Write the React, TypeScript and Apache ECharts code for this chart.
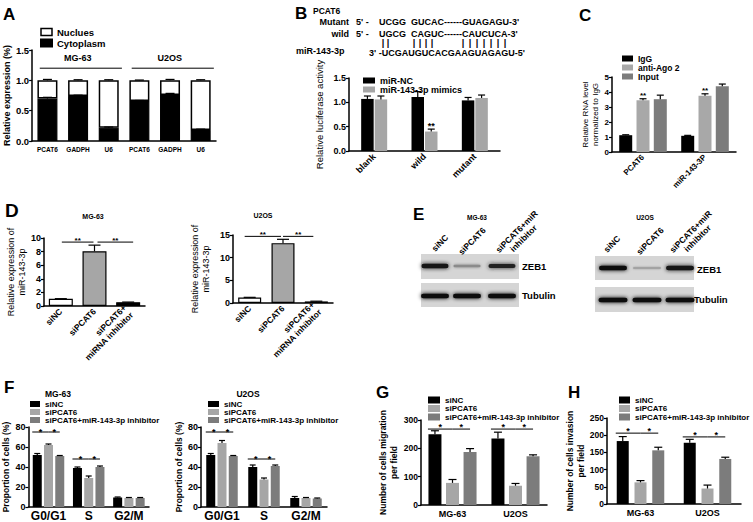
import React, { useEffect, useRef } from "react";
import * as echarts from "echarts";

const FONT = "'Liberation Sans', Arial, Helvetica, sans-serif";

// ---------- A ----------
const aCategories = ["PCAT6", "GADPH", "U6", "PCAT6", "GADPH", "U6"];
const aCytoplasm = [0.7, 0.74, 0.22, 0.66, 0.76, 0.18];
const aCytoplasmErr = [0.02, 0.015, 0.01, 0.008, 0.025, 0.015];
const aNucleus = [0.3, 0.26, 0.78, 0.34, 0.24, 0.82];
const aTotalErr = [0.015, 0.01, 0.01, 0.005, 0.015, 0.01];
const aGroupNames = ["MG-63", "U2OS"];
const aGroupStart = [0, 3];
const aGroupEnd = [2, 5];

// ---------- B ----------
const bCategories = ["blank", "wild", "mutant"];
const bNC = [1.07, 1.11, 1.04];
const bNCErr = [0.06, 0.11, 0.06];
const bMimics = [1.06, 0.4, 1.09];
const bMimicsErr = [0.07, 0.05, 0.06];
const bMimicsStars = ["", "**", ""];

// ---------- C ----------
const cCategories = ["PCAT6", "miR-143-3P"];
const cIgG = [1.12, 1.08];
const cIgGErr = [0.03, 0.03];
const cAgo = [3.45, 3.75];
const cAgoErr = [0.1, 0.13];
const cAgoStars = ["**", "**"];
const cInput = [3.52, 4.38];
const cInputErr = [0.27, 0.15];

// ---------- D ----------
const dCategories = ["siNC", "siPCAT6", "siPCAT6+\nmiRNA inhibitor"];
const dMG63 = [1.05, 8.05, 0.55];
const dMG63Err = [0.03, 0.9, 0.03];
const dU2OS = [1.2, 13.2, 0.35];
const dU2OSErr = [0.05, 0.85, 0.05];
const dColors = ["#ffffff", "#a6a6a6", "#000000"];

// ---------- F ----------
const fCategories = ["G0/G1", "S", "G2/M"];
const fMGsiNC = [52, 39, 9.5];
const fMGsiNCErr = [1.5, 1, 0.5];
const fMGsiPCAT6 = [62, 29, 9];
const fMGsiPCAT6Err = [1, 2, 0.5];
const fMGinh = [51, 40, 9];
const fMGinhErr = [0.5, 1, 0.5];
const fUsiNC = [52, 40, 9];
const fUsiNCErr = [1.5, 2, 1.5];
const fUsiPCAT6 = [64, 27.5, 9];
const fUsiPCAT6Err = [2.5, 1.5, 0.5];
const fUinh = [51, 41, 8.5];
const fUinhErr = [0.5, 1, 0.5];

// ---------- G / H ----------
const ghCategories = ["MG-63", "U2OS"];
const gSiNC = [250, 235];
const gSiNCErr = [12, 22];
const gSiPCAT6 = [78, 68];
const gSiPCAT6Err = [12, 8];
const gInh = [187, 172];
const gInhErr = [12, 5];
const hSiNC = [183, 178];
const hSiNCErr = [13, 10];
const hSiPCAT6 = [63, 45];
const hSiPCAT6Err = [5, 10];
const hInh = [156, 131];
const hInhErr = [9, 5];

const legendNames3 = ["siNC", "siPCAT6", "siPCAT6+miR-143-3p inhibitor"];
const col3 = ["#000000", "#a6a6a6", "#7c7c7c"];

// ---------- E (western blot) ----------
const eLanes = ["siNC", "siPCAT6", "siPCAT6+miR\ninhibitor"];
const eZEB1MG = [0.95, 0.35, 0.9];
const eZEB1U = [1, 0.22, 0.95];
const eTubMG = [1, 1, 1];
const eTubU = [1, 1, 1];

function offsetOf(idx: number, n: number, bw: number, gap: number) {
  return (idx - (n - 1) / 2) * bw * (1 + gap);
}

function textStyle(text: string, x: number, y: number, size: number, align = "left", va = "middle", weight = "bold") {
  return {
    text, x, y, fill: "#000", fontSize: size, fontWeight: weight, fontFamily: FONT,
    align, verticalAlign: va, textAlign: align, textVerticalAlign: va,
  };
}

function errSeries(gi: number, tops: number[], errs: number[], idx: number, n: number, bw: number, gap: number, cap: number, stars?: string[], starSize = 9) {
  return {
    type: "custom", xAxisIndex: gi, yAxisIndex: gi, z: 4, silent: true, clip: false,
    data: tops.map((v, i) => [i, v]),
    renderItem: (params: any, api: any) => {
      const i = params.dataIndex;
      const off = offsetOf(idx, n, bw, gap);
      const p0 = api.coord([i, tops[i]]);
      const p1 = api.coord([i, tops[i] + errs[i]]);
      const x = p0[0] + off;
      const children: any[] = [
        { type: "line", shape: { x1: x, y1: p0[1], x2: x, y2: p1[1] }, style: { stroke: "#000", lineWidth: 1.2 } },
        { type: "line", shape: { x1: x - cap / 2, y1: p1[1], x2: x + cap / 2, y2: p1[1] }, style: { stroke: "#000", lineWidth: 1.2 } },
      ];
      if (stars && stars[i]) {
        children.push({ type: "text", style: textStyle(stars[i], x, p1[1] - 3, starSize, "center", "middle") });
      }
      return { type: "group", children };
    },
  };
}

type Bracket = { c0: number; b0: number; c1: number; b1: number; y: number; t: string; d0?: number; d1?: number };

function bracketSeries(gi: number, items: Bracket[], n: number, bw: number, gap: number, size = 9, lift = 2) {
  return {
    type: "custom", xAxisIndex: gi, yAxisIndex: gi, z: 5, silent: true, clip: false,
    data: items.map((it) => [it.c0, it.y]),
    renderItem: (params: any, api: any) => {
      const it = items[params.dataIndex];
      const p0 = api.coord([it.c0, it.y]);
      const p1 = api.coord([it.c1, it.y]);
      const x0 = p0[0] + offsetOf(it.b0, n, bw, gap) + (it.d0 || 0);
      const x1 = p1[0] + offsetOf(it.b1, n, bw, gap) + (it.d1 || 0);
      return {
        type: "group",
        children: [
          { type: "line", shape: { x1: x0, y1: p0[1], x2: x1, y2: p0[1] }, style: { stroke: "#000", lineWidth: 1 } },
          { type: "text", style: textStyle(it.t, (x0 + x1) / 2, p0[1] - lift, size, "center", "middle") },
        ],
      };
    },
  };
}

function groupLabelSeries(gi: number) {
  return {
    type: "custom", xAxisIndex: gi, yAxisIndex: gi, z: 5, silent: true, clip: false,
    data: aGroupStart.map((s) => [s, 1.2]),
    renderItem: (params: any, api: any) => {
      const i = params.dataIndex;
      const band = api.size([1, 0])[0];
      const pa = api.coord([aGroupStart[i], 1.2]);
      const pb = api.coord([aGroupEnd[i], 1.2]);
      const pt = api.coord([aGroupStart[i], 1.37]);
      const x0 = pa[0] - 0.25 * band;
      const x1 = pb[0] + 0.43 * band;
      return {
        type: "group",
        children: [
          { type: "line", shape: { x1: x0, y1: pa[1], x2: x1, y2: pa[1] }, style: { stroke: "#000", lineWidth: 1 } },
          { type: "text", style: textStyle(aGroupNames[i], (x0 + x1) / 2 - 3, pt[1], 9, "center", "middle") },
        ],
      };
    },
  };
}

const xCat = (gi: number, data: string[], fs: number, extra: any = {}) => ({
  type: "category", gridIndex: gi, data,
  axisLine: { lineStyle: { color: "#000", width: 1.5 } },
  axisTick: { show: false },
  axisLabel: { color: "#000", fontFamily: FONT, fontWeight: "bold", fontSize: fs, interval: 0, margin: 4, ...extra },
});

const yVal = (gi: number, max: number, interval: number, fs: number, name: string, nameGap: number, nameFs: number, nameWeight: string, fmt?: any) => {
  const label: any = { color: "#000", fontFamily: FONT, fontWeight: "bold", fontSize: fs, margin: 3 };
  if (fmt) label.formatter = fmt;
  return {
    type: "value", gridIndex: gi, min: 0, max, interval,
    axisLine: { show: true, lineStyle: { color: "#000", width: 1.5 } },
    axisTick: { show: true, length: 3, lineStyle: { color: "#000", width: 1.2 } },
    splitLine: { show: false },
    axisLabel: label,
    name, nameLocation: "middle", nameGap, nameRotate: 90,
    nameTextStyle: { color: "#000", fontFamily: FONT, fontWeight: nameWeight, fontSize: nameFs, lineHeight: nameFs + 2 },
  };
};

const bar = (name: string, gi: number, data: any[], color: string, bw: number, gap: number, extra: any = {}) => ({
  type: "bar", name, xAxisIndex: gi, yAxisIndex: gi, data, barWidth: bw, barGap: `${Math.round(gap * 100)}%`,
  itemStyle: { color }, silent: true, ...extra,
});

const legend = (data: any[], left: number, top: number, w: number, h: number, gap: number, fs: number) => ({
  data, left, top, orient: "vertical", itemWidth: w, itemHeight: h, itemGap: gap, icon: "rect",
  padding: 0, selectedMode: false,
  textStyle: { color: "#000", fontFamily: FONT, fontWeight: "bold", fontSize: fs, lineHeight: fs },
});

function blotGraphics(): any[] {
  const els: any[] = [];
  const box = (x: number, y: number, w: number, h: number) =>
    els.push({ type: "rect", silent: true, shape: { x, y, width: w, height: h }, style: { fill: "#d5d5d5" } });
  const band = (cx: number, cy: number, w: number, k: number) => {
    const g = Math.round(205 - 190 * k);
    const c = `rgb(${g},${g},${g})`;
    const h = 1.5 + 3 * k;
    els.push({
      type: "rect", silent: true,
      shape: { x: cx - w / 2, y: cy - h / 2, width: w, height: h, r: h / 2 },
      style: { fill: c, shadowBlur: 2 + 2 * k, shadowColor: c },
    });
  };
  // MG-63
  box(421, 254, 98, 25);
  box(421, 283, 98, 24);
  const mgX = [435, 467, 502];
  mgX.forEach((x, i) => band(x, 266, 27, eZEB1MG[i]));
  mgX.forEach((x, i) => band(x, 296, 28, eTubMG[i]));
  // U2OS
  box(595, 256, 99, 24);
  box(595, 287, 99, 25);
  const uX = [613, 647, 680];
  uX.forEach((x, i) => band(x, 268, 28, eZEB1U[i]));
  uX.forEach((x, i) => band(x, 300, 29, eTubU[i]));
  // labels
  els.push({ type: "text", silent: true, style: textStyle("ZEB1", 522, 266, 9.5) });
  els.push({ type: "text", silent: true, style: textStyle("Tubulin", 522, 295, 9.5) });
  els.push({ type: "text", silent: true, style: textStyle("ZEB1", 697, 269, 9.5) });
  els.push({ type: "text", silent: true, style: textStyle("Tubulin", 694, 299, 9.5) });
  const mgLab = [[440, 243], [472, 241], [520, 235]];
  const uLab = [[612, 244], [650, 241], [694, 235]];
  [mgLab, uLab].forEach((pos) =>
    pos.forEach((p, i) =>
      els.push({
        type: "text", silent: true, x: p[0], y: p[1], rotation: Math.PI / 4,
        style: { ...textStyle(eLanes[i], 0, 0, 8.5, "center", "middle"), lineHeight: 9.5 },
      })
    )
  );
  els.push({ type: "text", silent: true, style: textStyle("MG-63", 477, 217, 6.5, "center") });
  els.push({ type: "text", silent: true, style: textStyle("U2OS", 645, 217, 6.5, "center") });
  return els;
}

function textGraphics(): any[] {
  const t = (s: string, x: number, y: number, size: number, align = "left", weight = "bold") => ({
    type: "text", silent: true, style: textStyle(s, x, y, size, align, "middle", weight),
  });
  const els: any[] = [
    t("A", 3, 14, 17), t("B", 295, 13, 17), t("C", 579, 15, 17), t("D", 5, 210, 19),
    t("E", 413, 214, 17), t("F", 4, 387, 17), t("G", 376, 392, 17), t("H", 568, 392, 17),
    // B sequence
    t("PCAT6", 313, 11, 8.5),
    t("Mutant", 349, 22, 9, "right"), t("5' -", 356, 22, 9), t("UCGG  GUCAC------GUAGAGU-3'", 379, 22, 9),
    t("wild", 349, 34, 9, "right"), t("5' -", 356, 34, 9), t("UGCG  CAGUC------CAUCUCA-3'", 379, 34, 9),
    t("miR-143-3p", 296, 51, 9), t("3' -UCGAUGUCACGAAGUAGAGU-5'", 369, 53, 9),
    // titles
    t("MG-63", 93, 216, 7, "center"), t("U2OS", 263, 215, 7, "center"),
    t("MG-63", 58, 394, 8.5, "center"), t("U2OS", 248, 394, 8.5, "center"),
  ];
  const pairX = [383, 388, 414, 420, 426, 432, 463, 470, 477, 484, 491, 498, 505];
  pairX.forEach((x) => els.push(t("|", x, 43, 9, "center")));
  return els;
}

function buildOption(): any {
  const grids = [
    { left: 32, top: 50, width: 184, height: 91 },
    { left: 349, top: 78, width: 151, height: 73 },
    { left: 612, top: 77, width: 124, height: 75 },
    { left: 44, top: 238, width: 101, height: 68 },
    { left: 233, top: 235, width: 100, height: 68 },
    { left: 25, top: 427, width: 124, height: 80 },
    { left: 201, top: 427, width: 126, height: 80 },
    { left: 421, top: 420, width: 126, height: 85 },
    { left: 607, top: 418, width: 134, height: 86 },
  ];
  const f1 = (v: number) => v.toFixed(1);
  const xAxis = [
    xCat(0, aCategories, 6.5, { margin: 5 }),
    xCat(1, bCategories, 9, { rotate: 45 }),
    xCat(2, cCategories, 8, { rotate: 45 }),
    xCat(3, dCategories, 8.5, { rotate: 45, lineHeight: 10 }),
    xCat(4, dCategories, 8.5, { rotate: 45, lineHeight: 10 }),
    xCat(5, fCategories, 12, { margin: 3 }),
    xCat(6, fCategories, 12, { margin: 3 }),
    xCat(7, ghCategories, 9),
    xCat(8, ghCategories, 9),
  ];
  const yAxis = [
    yVal(0, 1.5, 0.5, 9.5, "Relative expression (%)", 20, 9, "bold", f1),
    yVal(1, 1.5, 0.5, 9, "Relative luciferase activity", 24, 9.5, "normal", f1),
    yVal(2, 5, 1, 8, "Relative RNA level\nnormalized to IgG", 10, 8, "normal"),
    yVal(3, 10, 2, 9, "Relative expression of\nmiR-143-3p", 17, 9, "normal"),
    yVal(4, 15, 5, 9, "Relative expression of\nmiR-143-3p", 22, 9, "normal"),
    yVal(5, 80, 20, 9, "Proportion of cells (%)", 13, 8.5, "bold"),
    yVal(6, 80, 20, 9, "Proportion of cells (%)", 10, 8.5, "bold"),
    yVal(7, 300, 100, 8.5, "Number of cells migration\nper field", 22, 8.5, "bold"),
    yVal(8, 250, 50, 8.5, "Number of cells invasion\nper field", 20, 8.5, "bold"),
  ];

  const border = { borderColor: "#000", borderWidth: 1.2 };
  const dData = (vals: number[]) => vals.map((v, i) => ({ value: v, itemStyle: { color: dColors[i], ...border } }));

  const series: any[] = [
    // A
    bar("Cytoplasm", 0, aCytoplasm, "#000", 20, 0, { stack: "a", itemStyle: { color: "#000", ...border } }),
    bar("Nuclues", 0, aNucleus, "#fff", 20, 0, { stack: "a", itemStyle: { color: "#fff", borderColor: "#000", borderWidth: 1.5 } }),
    errSeries(0, aCytoplasm, aCytoplasmErr, 0, 1, 20, 0, 9),
    errSeries(0, aCytoplasm.map((v, i) => v + aNucleus[i]), aTotalErr, 0, 1, 20, 0, 9),
    groupLabelSeries(0),
    // B
    bar("miR-NC", 1, bNC, "#000", 12.5, 0.08),
    bar("miR-143-3p mimics", 1, bMimics, "#a6a6a6", 12.5, 0.08),
    errSeries(1, bNC, bNCErr, 0, 2, 12.5, 0.08, 7),
    errSeries(1, bMimics, bMimicsErr, 1, 2, 12.5, 0.08, 7, bMimicsStars),
    // C
    bar("IgG", 2, cIgG, "#000", 13, 0.33),
    bar("anti-Ago 2", 2, cAgo, "#a8a8a8", 13, 0.33),
    bar("Input", 2, cInput, "#7c7c7c", 13, 0.33),
    errSeries(2, cIgG, cIgGErr, 0, 3, 13, 0.33, 7),
    errSeries(2, cAgo, cAgoErr, 1, 3, 13, 0.33, 7, cAgoStars, 8),
    errSeries(2, cInput, cInputErr, 2, 3, 13, 0.33, 7),
    // D
    bar("MG-63 miR-143-3p", 3, dData(dMG63), "#000", 24, 0),
    errSeries(3, dMG63, dMG63Err, 0, 1, 24, 0, 12),
    bracketSeries(3, [
      { c0: 0, b0: 0, c1: 1, b1: 0, y: 9.4, t: "**", d0: 1, d1: -1 },
      { c0: 1, b0: 0, c1: 2, b1: 0, y: 9.4, t: "**", d0: 3, d1: 5 },
    ], 1, 24, 0, 8),
    bar("U2OS miR-143-3p", 4, dData(dU2OS), "#000", 23, 0),
    errSeries(4, dU2OS, dU2OSErr, 0, 1, 23, 0, 12),
    bracketSeries(4, [
      { c0: 0, b0: 0, c1: 1, b1: 0, y: 14.7, t: "**", d0: -5, d1: -2 },
      { c0: 1, b0: 0, c1: 2, b1: 0, y: 14.7, t: "**", d0: 0, d1: -3 },
    ], 1, 23, 0, 8),
  ];

  const threeGroup = (gi: number, vals: number[][], errs: number[][], bw: number, gap: number, cap: number, brackets: Bracket[], lift: number) => {
    vals.forEach((v, k) => series.push(bar(legendNames3[k], gi, v, col3[k], bw, gap)));
    vals.forEach((v, k) => series.push(errSeries(gi, v, errs[k], k, 3, bw, gap, cap)));
    series.push(bracketSeries(gi, brackets, 3, bw, gap, 9, lift));
  };
  const grpBr = (cat: number, y: number, firstInset: number): Bracket[] => [
    { c0: cat, b0: 0, c1: cat, b1: 1, y, t: "*", d0: firstInset },
    { c0: cat, b0: 1, c1: cat, b1: 2, y, t: "*" },
  ];
  threeGroup(5, [fMGsiNC, fMGsiPCAT6, fMGinh], [fMGsiNCErr, fMGsiPCAT6Err, fMGinhErr], 9, 0.25, 6,
    [...grpBr(0, 75, -5), ...grpBr(1, 48, -5)], 0.5);
  threeGroup(6, [fUsiNC, fUsiPCAT6, fUinh], [fUsiNCErr, fUsiPCAT6Err, fUinhErr], 9, 0.25, 6,
    [...grpBr(0, 75, -5), ...grpBr(1, 48, -5)], 0.5);
  threeGroup(7, [gSiNC, gSiPCAT6, gInh], [gSiNCErr, gSiPCAT6Err, gInhErr], 13, 0.35, 8,
    [...grpBr(0, 268, -7), ...grpBr(1, 268, -7)], 2);
  threeGroup(8, [hSiNC, hSiPCAT6, hInh], [hSiNCErr, hSiPCAT6Err, hInhErr], 12, 0.48, 8,
    [...grpBr(0, 206, -7), ...grpBr(1, 195, -7)], 2);

  return {
    animation: false,
    backgroundColor: "#ffffff",
    textStyle: { fontFamily: FONT },
    grid: grids,
    xAxis,
    yAxis,
    legend: [
      legend([{ name: "Nuclues", itemStyle: { color: "#fff", borderColor: "#000", borderWidth: 1.5 } }, "Cytoplasm"], 40, 27, 11, 7, 1, 9.5),
      legend(["miR-NC", "miR-143-3p mimics"], 363, 76, 12, 6, 0, 9),
      legend(["IgG", "anti-Ago 2", "Input"], 622, 54, 11, 6, 0, 8.5),
      legend(legendNames3, 30, 400, 10, 6, 0, 8),
      legend(legendNames3, 208, 400, 11, 6, 0, 8),
      legend(legendNames3, 428, 396, 12, 7, 0.5, 8),
      legend(legendNames3, 619, 396, 11, 7, 0.5, 8),
    ],
    series,
    graphic: [...textGraphics(), ...blotGraphics()],
  };
}

export default function App() {
  const ref = useRef<HTMLDivElement>(null);
  useEffect(() => {
    document.body.style.margin = "0";
    const chart = echarts.init(ref.current as HTMLDivElement, null, { renderer: "svg", width: 753, height: 522 });
    chart.setOption(buildOption());
    return () => chart.dispose();
  }, []);
  return <div ref={ref} style={{ width: 753, height: 522, position: "fixed", left: 0, top: 0, background: "#fff" }} />;
}
